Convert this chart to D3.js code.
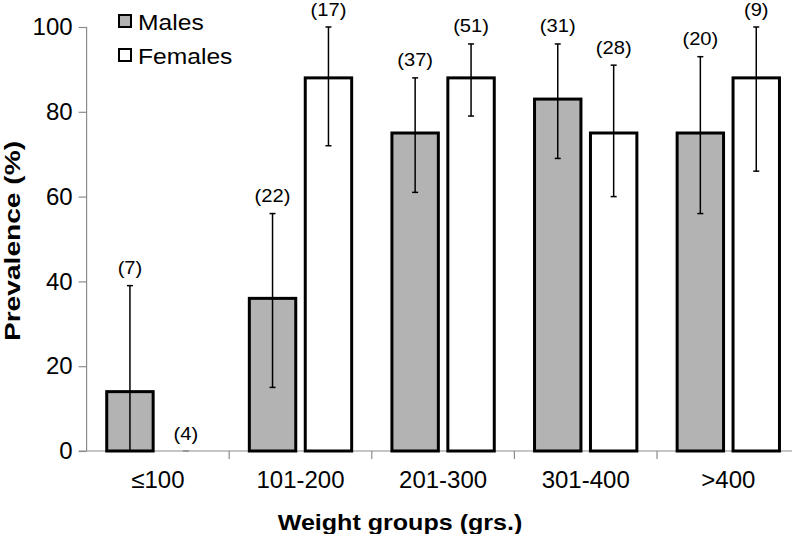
<!DOCTYPE html>
<html><head><meta charset="utf-8">
<script src="https://cdn.jsdelivr.net/npm/d3@7"></script>
<style>body{margin:0;background:#fff}svg{display:block;font-family:"Liberation Sans",Arial,sans-serif}</style>
</head><body>
<svg id="c" width="792" height="534"></svg>
<script>
const categories = ["≤100", "101-200", "201-300", "301-400", ">400"];
const series = ["Males", "Females"];
const malesValues = [14, 36, 75, 83, 75];
const malesLow = [0, 15, 61, 69, 56];
const malesHigh = [39, 56, 88, 96, 93];
const malesN = ["(7)", "(22)", "(37)", "(31)", "(20)"];
const femalesValues = [0, 88, 88, 75, 88];
const femalesLow = [0, 72, 79, 60, 66];
const femalesHigh = [0, 100, 96, 91, 100];
const femalesN = ["(4)", "(17)", "(51)", "(28)", "(9)"];
const yTicks = [0, 20, 40, 60, 80, 100];

const rows = [];
categories.forEach((c, i) => {
  rows.push({cat: c, s: "Males", v: malesValues[i], lo: malesLow[i], hi: malesHigh[i], n: malesN[i]});
  rows.push({cat: c, s: "Females", v: femalesValues[i], lo: femalesLow[i], hi: femalesHigh[i], n: femalesN[i]});
});

const svg = d3.select("#c");
const left = 86.6, bandW = 142.6;
const x = d3.scaleBand().domain(categories).range([left, left + bandW * categories.length]);
const xs = d3.scaleBand().domain(series).range([0, bandW]).paddingInner(0.17).paddingOuter(0.36);
const y = d3.scaleLinear().domain([0, 100]).range([451, 27]);
const fill = {Males: "#b3b3b3", Females: "#ffffff"};
const axisCol = "#8c8c8c";

// y axis
const ya = svg.append("g").attr("transform", `translate(${left},0)`)
  .call(d3.axisLeft(y).tickValues(yTicks).tickSize(8).tickPadding(6));
ya.select(".domain").attr("stroke", axisCol).attr("stroke-width", 1.2).attr("d", `M0,${y(100)}V${y(0)}`);
ya.selectAll(".tick line").attr("stroke", axisCol).attr("stroke-width", 1.2);
ya.selectAll(".tick text").attr("font-size", 24).attr("fill", "#000").attr("font-family", "Liberation Sans, Arial, sans-serif");

// x axis line
svg.append("line").attr("x1", 79).attr("x2", 792).attr("y1", y(0)).attr("y2", y(0))
  .attr("stroke", axisCol).attr("stroke-width", 1.2);
svg.selectAll(".xtick").data(categories.slice(1)).enter().append("line")
  .attr("x1", d => x(d)).attr("x2", d => x(d)).attr("y1", y(0)).attr("y2", y(0) + 8)
  .attr("stroke", axisCol).attr("stroke-width", 1.2);
svg.selectAll(".xlab").data(categories).enter().append("text")
  .attr("x", d => x(d) + x.bandwidth() / 2).attr("y", 488)
  .attr("text-anchor", "middle").attr("font-size", 24).text(d => d);

// bars
const g = svg.append("g");
g.selectAll("rect.bar").data(rows.filter(d => d.v > 0)).enter().append("rect")
  .attr("x", d => x(d.cat) + xs(d.s)).attr("width", xs.bandwidth())
  .attr("y", d => y(d.v)).attr("height", d => y(0) - y(d.v))
  .attr("fill", d => fill[d.s]).attr("stroke", "#000").attr("stroke-width", 3);

// error bars
const cx = d => x(d.cat) + xs(d.s) + xs.bandwidth() / 2;
const eb = g.selectAll("g.eb").data(rows).enter().append("g");
eb.append("line").attr("x1", cx).attr("x2", cx).attr("y1", d => y(d.lo)).attr("y2", d => y(d.hi))
  .attr("stroke", "#000").attr("stroke-width", 1.5);
eb.append("line").attr("x1", d => cx(d) - 3).attr("x2", d => cx(d) + 3).attr("y1", d => y(d.hi)).attr("y2", d => y(d.hi))
  .attr("stroke", d => d.hi === 0 ? "#888" : "#000").attr("stroke-width", 1.5);
eb.filter(d => d.lo > 0).append("line").attr("x1", d => cx(d) - 3).attr("x2", d => cx(d) + 3).attr("y1", d => y(d.lo)).attr("y2", d => y(d.lo))
  .attr("stroke", "#000").attr("stroke-width", 1.5);
eb.append("text")
  .attr("transform", d => `translate(${cx(d)},${y(d.hi) - 11.5}) scale(1.12,1)`)
  .attr("text-anchor", "middle").attr("font-size", 18).text(d => d.n);

// legend
const lg = svg.append("g");
series.forEach((s, i) => {
  lg.append("rect").attr("x", 119).attr("y", 15 + i * 34).attr("width", 12).attr("height", 12)
    .attr("fill", fill[s]).attr("stroke", "#000").attr("stroke-width", 2);
  lg.append("text").attr("transform", `translate(138,${30 + i * 34}) scale(1.12,1)`)
    .attr("font-size", 22).text(s);
});

// axis titles
svg.append("text").attr("transform", "translate(400,530) scale(1.14,1)").attr("text-anchor", "middle")
  .attr("font-size", 22).attr("font-weight", "bold").text("Weight groups (grs.)");
svg.append("text").attr("transform", "translate(20,241) rotate(-90) scale(1.28,1)").attr("text-anchor", "middle")
  .attr("font-size", 22).attr("font-weight", "bold").text("Prevalence (%)");
</script>
</body></html>
